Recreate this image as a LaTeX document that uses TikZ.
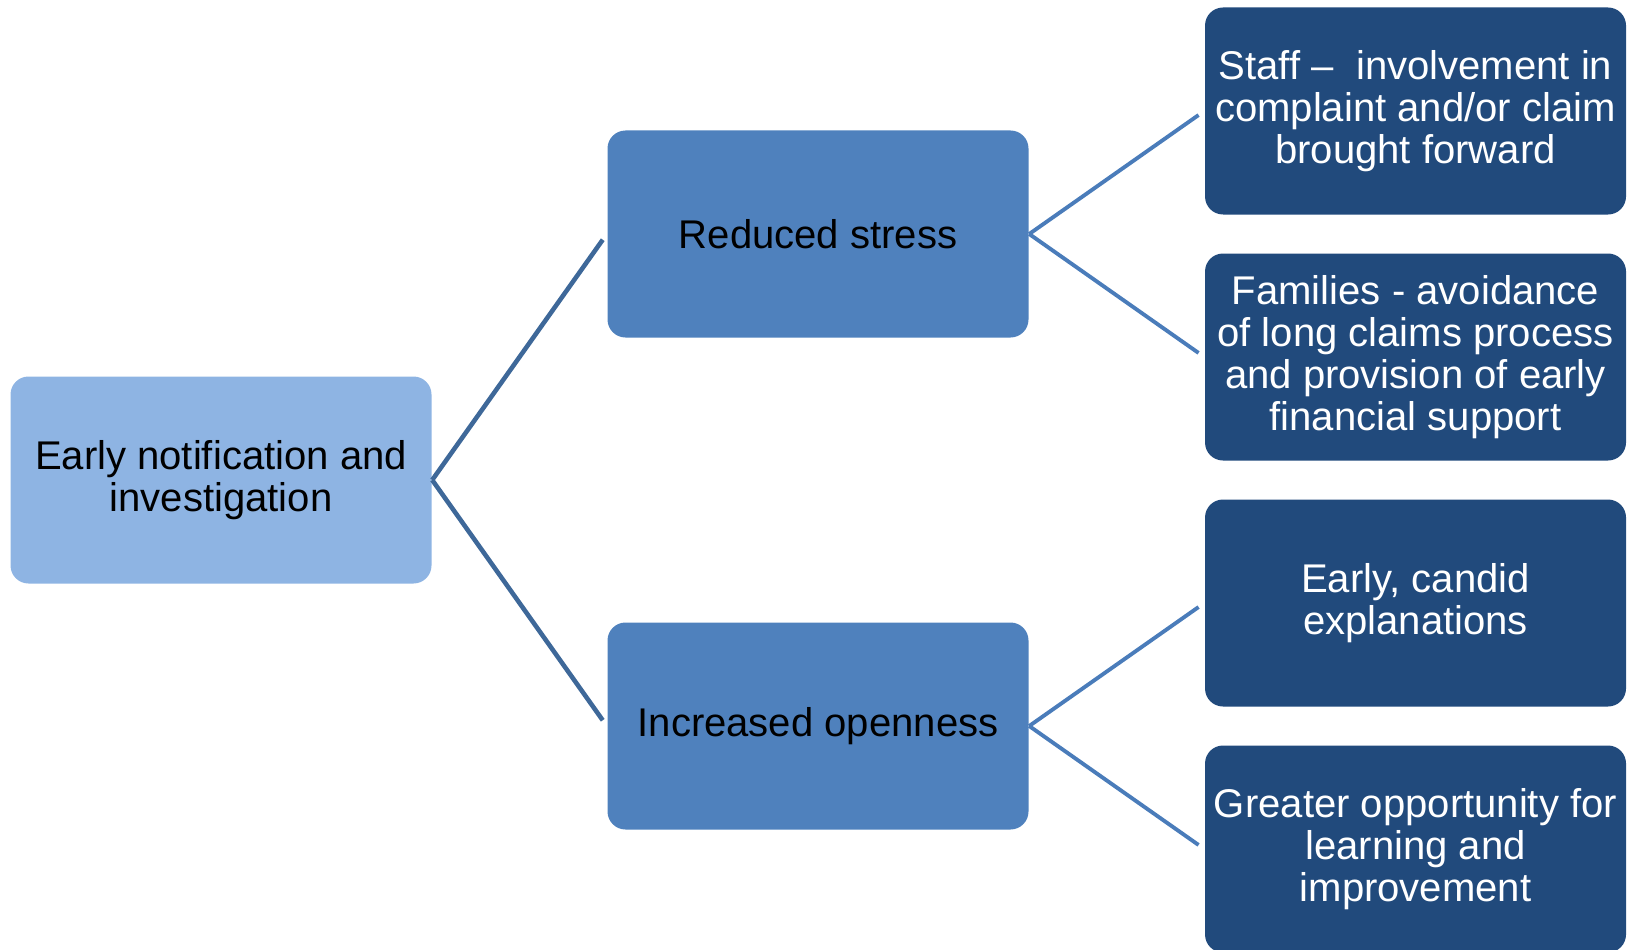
\documentclass[tikz,border=0pt]{standalone}
\usepackage{fontspec}
\setmainfont{Liberation Sans}
\usepackage{tikz}

\definecolor{lightbox}{RGB}{142,180,227}
\definecolor{midbox}{RGB}{79,129,189}
\definecolor{darkbox}{RGB}{33,74,124}
\definecolor{lineleft}{RGB}{62,104,153}
\definecolor{lineright}{RGB}{74,124,186}

\begin{document}
\begin{tikzpicture}[shorten >=2pt,
		box_style/.style={rectangle,rounded corners=0.18cm,minimum width=4.21cm,minimum height=2.07cm,inner sep=0pt,align=center,font=\fontsize{11.4}{11.9}\selectfont},
		node_style/.style={box_style,fill=lightbox,text=black},
		node_style1/.style={box_style,fill=midbox,text=black},
		node_style2/.style={box_style,fill=darkbox,text=white},
		edge_style/.style={draw=lineleft,line width=1.3pt},
		edge_style1/.style={draw=lineright,line width=1.1pt}]

		\useasboundingbox (0,0) rectangle (16.32,9.49);

		\node[node_style] (n0) at (2.21,4.69) {Early notification and\\investigation};
		\node[node_style1] (n1) at (8.18,7.15) {Reduced stress};
		\node[node_style1] (n2) at (8.18,2.23) {Increased openness};
		\node[node_style2] (n3) at (14.155,8.38) {Staff --\ \ involvement in\\complaint and/or claim\\brought forward};
		\node[node_style2] (n4) at (14.155,5.92) {Families - avoidance\\of long claims process\\and provision of early\\financial support};
		\node[node_style2] (n5) at (14.155,3.46) {Early, candid\\explanations};
		\node[node_style2] (n6) at (14.155,1.00) {Greater opportunity for\\learning and\\improvement};

		\draw[edge_style]  (n0.east) -- (n1.west);
		\draw[edge_style]  (n0.east) -- (n2.west);
		\draw[edge_style1]  (n1.east) -- (n3.west);
		\draw[edge_style1]  (n1.east) -- (n4.west);
		\draw[edge_style1]  (n2.east) -- (n5.west);
		\draw[edge_style1]  (n2.east) -- (n6.west);
\end{tikzpicture}
\end{document}
